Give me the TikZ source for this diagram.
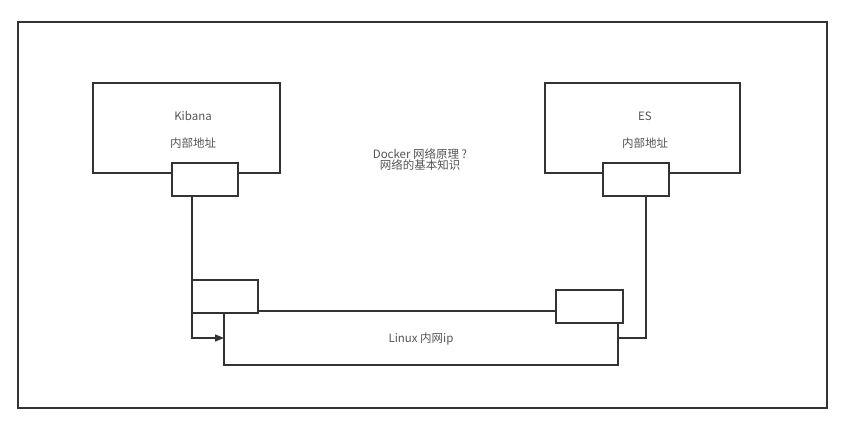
\documentclass[tikz,border=0pt]{standalone}
\usepackage{fontspec}
\setmainfont{Noto Sans CJK SC}
\usetikzlibrary{arrows.meta}
\definecolor{ln}{HTML}{333333}
\definecolor{tx}{HTML}{555555}
\tikzset{
  box/.style={draw=ln, line width=1.3pt, fill=white},
  wire/.style={draw=ln, line width=1.3pt},
  lbl/.style={text=tx, font=\fontsize{11.5}{13}\selectfont, inner sep=0pt},
}
\begin{document}
\begin{tikzpicture}[x=1pt,y=-1pt]
\useasboundingbox (0,0) rectangle (864,423);
\fill[white] (0,0) rectangle (864,423);
% outer frame
\draw[box,fill=none] (18,22) rectangle (827,408);
% Linux box
\draw[box] (224,311) rectangle (618,365);
\coordinate (linuxL) at (224,338);
\coordinate (linuxR) at (618,338);
% main boxes
\draw[box] (93,83) rectangle (280,173);
\draw[box] (545,83) rectangle (740,173);
% ports
\node[box, minimum width=66pt, minimum height=33pt, inner sep=0pt] (kport) at (205,179.5) {};
\node[box, minimum width=66pt, minimum height=33pt, inner sep=0pt] (eport) at (636,179.5) {};
% wires
\coordinate (kdown) at (192,338);
\coordinate (edown) at (646,338);
\draw[wire,-{Triangle[length=9pt,width=7pt]}] (192,196) -- (kdown) -- (linuxL);
\draw[wire] (646,196) -- (edown) -- (linuxR);
% bridge boxes
\node[box, minimum width=66pt, minimum height=33pt, inner sep=0pt] (lb) at (225,296.5) {};
\node[box, minimum width=67pt, minimum height=33pt, inner sep=0pt] (rb) at (589.5,306.5) {};
\draw[wire] (258,311) -- (556,311);
% labels
\node[lbl] (kib) at (193,116) {Kibana};
\node[lbl] (kaddr) at (193,143) {内部地址};
\node[lbl] (es) at (645,116) {ES};
\node[lbl] (eaddr) at (645,143) {内部地址};
\node[lbl, align=center] (dock) at (420,159.5) {Docker 网络原理 ?\\[-1.5pt]网络的基本知识};
\node[lbl] (lin) at (421,339) {Linux 内网ip};
\end{tikzpicture}
\end{document}
